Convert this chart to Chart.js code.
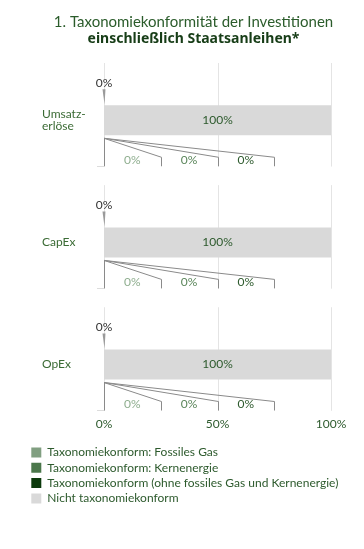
<!DOCTYPE html>
<html>
<head>
<meta charset="utf-8">
<script src="https://cdn.jsdelivr.net/npm/chart.js@4/dist/chart.umd.min.js"></script>
<style>
  html, body { margin: 0; padding: 0; background: #fff; }
  #wrap { width: 364px; height: 549px; position: relative; }
</style>
</head>
<body>
<div id="wrap"><canvas id="taxChart"></canvas></div>
<script>
// Kategorien und Werte (in %)
const categories = [['Umsatz-', 'erlöse'], 'CapEx', 'OpEx'];
const fossilGas = [0, 0, 0];
const nuclear = [0, 0, 0];
const otherAligned = [0, 0, 0];
const notAligned = [100, 100, 100];
const xTicks = [0, 50, 100];
const seriesNames = [
    'Taxonomiekonform: Fossiles Gas',
    'Taxonomiekonform: Kernenergie',
    'Taxonomiekonform (ohne fossiles Gas und Kernenergie)',
    'Nicht taxonomiekonform'
];

const FONT = 'Lato';
const boxColors = ['#819f81', '#4b774b', '#0c3a0c', '#d9d9d9'];
const labelColors = ['#8fae8f', '#5b865b', '#2d5a2d'];
const calloutEnds = [25, 50, 75];

// Hilfslinien, Beschriftungen und Gitter je Block
const callouts = {
    id: 'callouts',
    afterLayout(chart) {
        // Kategorienamen linksbündig bei x=42
        chart.scales.y.left = 42;
    },
    beforeDatasetsDraw(chart) {
        const {ctx, scales: {x, y}} = chart;
        const x0 = x.getPixelForValue(0);
        ctx.save();
        ctx.lineWidth = 1;
        categories.forEach((c, i) => {
            const top = y.getPixelForValue(i - 0.469);
            const bottom = y.getPixelForValue(i + 0.379);
            ctx.strokeStyle = '#e4e4e4';
            xTicks.forEach(v => {
                const px = Math.round(x.getPixelForValue(v)) + 0.5;
                ctx.beginPath();
                ctx.moveTo(px, top);
                ctx.lineTo(px, bottom);
                ctx.stroke();
            });
            // kleiner Strich am Blockende
            ctx.strokeStyle = '#dcdcdc';
            ctx.beginPath();
            ctx.moveTo(x0 - 7, Math.round(bottom) - 0.5);
            ctx.lineTo(x0, Math.round(bottom) - 0.5);
            ctx.stroke();
        });
        ctx.restore();
    },
    afterDatasetsDraw(chart) {
        const {ctx, scales: {x, y}} = chart;
        const x0 = x.getPixelForValue(0);
        const greens = [fossilGas, nuclear, otherAligned];
        ctx.save();
        ctx.font = '12px ' + FONT;
        ctx.textAlign = 'center';
        ctx.textBaseline = 'middle';
        categories.forEach((c, i) => {
            const cy = y.getPixelForValue(i);
            const total = fossilGas[i] + nuclear[i] + otherAligned[i];

            // Wert im grauen Balken
            ctx.fillStyle = '#2d5a2d';
            ctx.fillText(notAligned[i] + '%', x.getPixelForValue(total + notAligned[i] / 2), cy);

            // Summe oben mit kleinem Zeiger
            ctx.fillStyle = '#333';
            ctx.fillText(total + '%', x0, cy - 37);
            ctx.fillStyle = '#9a9a9a';
            ctx.beginPath();
            ctx.moveTo(x0 - 1.5, cy - 31);
            ctx.lineTo(x0 + 1.5, cy - 31);
            ctx.lineTo(x0 + 0.5, cy - 16);
            ctx.closePath();
            ctx.fill();

            // Zeigerlinien unten
            ctx.strokeStyle = '#8a8a8a';
            ctx.lineWidth = 1;
            ctx.beginPath();
            ctx.moveTo(x0 + 0.5, cy + 18);
            ctx.lineTo(x0 + 0.5, cy + 46);
            ctx.stroke();
            calloutEnds.forEach((end, k) => {
                const ex = Math.round(x.getPixelForValue(end)) + 0.5;
                ctx.beginPath();
                ctx.moveTo(x0, cy + 18);
                ctx.lineTo(ex, cy + 37);
                ctx.lineTo(ex, cy + 46);
                ctx.stroke();
                const start = k === 0 ? 0 : calloutEnds[k - 1];
                ctx.fillStyle = labelColors[k];
                ctx.fillText(greens[k][i] + '%', x.getPixelForValue((start + end) / 2), cy + 40);
            });
        });
        ctx.restore();
    }
};

const series = [fossilGas, nuclear, otherAligned, notAligned];
const datasets = series.map((vals, s) => ({
    label: seriesNames[s],
    data: vals.map((v, i) => ({x: v, y: i})),
    backgroundColor: boxColors[s],
    borderWidth: 0,
    inflateAmount: 0,
    barThickness: 30
}));

const ctx = document.getElementById('taxChart').getContext('2d');
new Chart(ctx, {
    type: 'bar',
    data: {datasets: datasets},
    plugins: [callouts],
    options: {
        indexAxis: 'y',
        responsive: true,
        maintainAspectRatio: false,
        animation: false,
        layout: {padding: {left: 28, right: 5, top: 0, bottom: 34.6}},
        scales: {
            x: {
                type: 'linear',
                stacked: true,
                min: 0,
                max: 100,
                grid: {display: false, drawTicks: false},
                border: {display: false},
                afterBuildTicks: axis => { axis.ticks = xTicks.map(v => ({value: v})); },
                afterFit: axis => {
                    axis.height += 6;
                    axis.paddingRight = 33;
                },
                ticks: {
                    padding: 6,
                    color: '#2d5a2d',
                    font: {family: FONT, size: 12},
                    callback: v => v + '%'
                }
            },
            y: {
                type: 'linear',
                stacked: true,
                reverse: true,
                offset: false,
                min: -0.469,
                max: 2.379,
                grid: {display: false, drawTicks: false},
                border: {display: false},
                afterBuildTicks: axis => { axis.ticks = categories.map((c, i) => ({value: i})); },
                afterFit: axis => { axis.width = 76; },
                ticks: {
                    crossAlign: 'far',
                    color: '#3b6b35',
                    font: {family: FONT, size: 12, lineHeight: 1.0},
                    callback: v => categories[v]
                }
            }
        },
        plugins: {
            title: {
                display: true,
                text: '1. Taxonomiekonformität der Investitionen',
                color: '#2b5c2b',
                font: {family: FONT, size: 15, weight: 'normal'},
                padding: {top: 13, bottom: 0}
            },
            subtitle: {
                display: true,
                text: 'einschließlich Staatsanleihen*',
                color: '#173d17',
                font: {family: 'Noto Sans', size: 14, weight: 'bold'},
                padding: {top: 0, bottom: 15.2}
            },
            legend: {
                position: 'bottom',
                align: 'start',
                labels: {
                    boxWidth: 10,
                    boxHeight: 10,
                    padding: 3.3,
                    color: '#2d5a2d',
                    font: {family: FONT, size: 12}
                }
            },
            tooltip: {enabled: false}
        }
    }
});
</script>
</body>
</html>
